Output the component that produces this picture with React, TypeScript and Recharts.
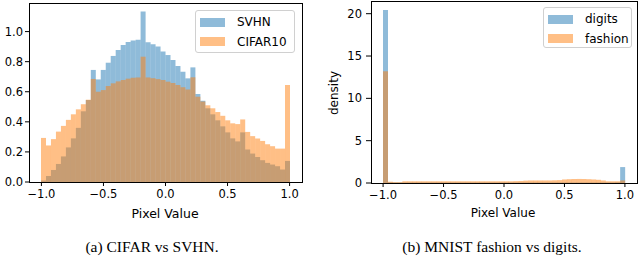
import {BarChart, Bar, XAxis, YAxis} from "recharts";

// 50 histogram bins on [-1, 1]
const binCenters = Array.from({length: 50}, (_, i) => Math.round((-0.98 + 0.04 * i) * 100) / 100);

const svhn = [
  0.01, 0.04, 0.08, 0.12, 0.17, 0.23, 0.29, 0.36, 0.47, 0.545,
  0.745, 0.682, 0.745, 0.793, 0.838, 0.878, 0.911, 0.931, 0.94, 0.945,
  1.133, 0.929, 0.916, 0.9, 0.867, 0.844, 0.811, 0.771, 0.733, 0.689,
  0.762, 0.585, 0.54, 0.49, 0.45, 0.41, 0.37, 0.33, 0.29, 0.27,
  0.33, 0.216, 0.189, 0.167, 0.145, 0.127, 0.116, 0.105, 0.083, 0.14
];
const cifar10 = [
  0.293, 0.243, 0.285, 0.335, 0.373, 0.413, 0.45, 0.483, 0.517, 0.547,
  0.685, 0.6, 0.611, 0.638, 0.656, 0.669, 0.678, 0.687, 0.693, 0.695,
  0.833, 0.695, 0.69, 0.684, 0.678, 0.667, 0.658, 0.645, 0.63, 0.615,
  0.696, 0.567, 0.535, 0.51, 0.49, 0.465, 0.44, 0.41, 0.39, 0.385,
  0.416, 0.333, 0.305, 0.289, 0.273, 0.251, 0.238, 0.222, 0.222, 0.645
];
const digits = [
  20.45, 0.08, 0.06, 0.06, 0.06, 0.06, 0.06, 0.06, 0.06, 0.06,
  0.06, 0.06, 0.06, 0.06, 0.06, 0.06, 0.06, 0.06, 0.06, 0.06,
  0.06, 0.06, 0.06, 0.06, 0.06, 0.06, 0.06, 0.06, 0.06, 0.06,
  0.06, 0.06, 0.06, 0.06, 0.06, 0.06, 0.06, 0.06, 0.06, 0.06,
  0.06, 0.06, 0.06, 0.06, 0.06, 0.06, 0.06, 0.06, 0.08, 1.88
];
const fashion = [
  13.2, 0.15, 0.1, 0.1, 0.2, 0.2, 0.2, 0.2, 0.2, 0.2,
  0.2, 0.2, 0.2, 0.2, 0.2, 0.2, 0.2, 0.2, 0.2, 0.2,
  0.2, 0.2, 0.2, 0.2, 0.2, 0.2, 0.2, 0.22, 0.24, 0.28,
  0.3, 0.3, 0.3, 0.3, 0.3, 0.32, 0.34, 0.42, 0.45, 0.47,
  0.48, 0.47, 0.45, 0.42, 0.38, 0.3, 0.2, 0.2, 0.2, 0.3
];

const xTicks = [-1, -0.5, 0, 0.5, 1];
const leftYTicks = [0, 0.2, 0.4, 0.6, 0.8, 1.0];
const rightYTicks = [0, 5, 10, 15, 20];

const leftData = binCenters.map((x, i) => ({bin: String(i), x, svhn: svhn[i], cifar: cifar10[i]}));
const rightData = binCenters.map((x, i) => ({bin: String(i), x, digits: digits[i], fashion: fashion[i]}));

const BLUE = "#1f77b4";
const ORANGE = "#ff7f0e";
const fmt = (v: number) => v.toFixed(1).replace("-", "\u2212");
const tickStyle = {fontSize: 11.5, fill: "#000", fontFamily: "DejaVu Sans"};
const tickLine = {stroke: "#000", strokeWidth: 1};

const Centered = ({x, y, children, style}: any) => (
  <div style={{position: "absolute", left: x, top: y, transform: "translate(-50%, -50%)", whiteSpace: "nowrap", ...style}}>
    {children}
  </div>
);

// axes frame (the four spines)
const Frame = ({left, top, width, height}: any) => (
  <div style={{position: "absolute", left: left - 0.5, top: top - 0.5, width: width + 1, height: height + 1,
    boxSizing: "border-box", border: "1px solid #000", pointerEvents: "none"}}/>
);

const LegendBox = ({left, top, width, height, items}: any) => (
  <div style={{
    position: "absolute", left, top, width, height, boxSizing: "border-box",
    border: "1px solid #d0d0d0", borderRadius: 3, background: "rgba(255,255,255,0.8)"
  }}>
    {items.map((it: any, i: number) => (
      <div key={i} style={{position: "absolute", left: 4, top: 5 + i * 19.5, display: "flex", alignItems: "center"}}>
        <div style={{width: 25, height: 9, background: it.color, opacity: 0.5}}/>
        <span style={{marginLeft: 12, fontSize: 12, lineHeight: "12px"}}>{it.label}</span>
      </div>
    ))}
  </div>
);

const App = () => {
  return (<div style={{position: "absolute", left: 0, top: 0, width: 640, height: 256, background: "#fff", fontFamily: "DejaVu Sans", color: "#000"}}>
    {/* (a) CIFAR vs SVHN */}
    <div style={{position: "absolute", left: 0, top: 0}}>
      <BarChart width={320} height={230} data={leftData} margin={{top: 3, right: 18, left: 0, bottom: 0}} barCategoryGap={0} barGap={0}>
        <XAxis xAxisId="a" dataKey="bin" hide height={0} padding={{left: 12, right: 12}}/>
        <XAxis xAxisId="b" dataKey="bin" hide height={0} padding={{left: 12, right: 12}}/>
        <XAxis xAxisId="t" dataKey="x" type="number" domain={[-1.1, 1.1]} allowDataOverflow ticks={xTicks} interval={0}
          tickFormatter={fmt} height={48} tickSize={4} tickMargin={4} tick={tickStyle} axisLine={false} tickLine={tickLine}/>
        <YAxis yAxisId="l" domain={[0, 1.19]} allowDataOverflow ticks={leftYTicks} interval={0} tickFormatter={(v: number) => v.toFixed(1)}
          width={29} tickSize={4} tickMargin={2} tick={tickStyle} axisLine={false} tickLine={tickLine}/>
        <Bar xAxisId="a" yAxisId="l" dataKey="svhn" fill={BLUE} fillOpacity={0.5} isAnimationActive={false}/>
        <Bar xAxisId="b" yAxisId="l" dataKey="cifar" fill={ORANGE} fillOpacity={0.5} isAnimationActive={false}/>
      </BarChart>
    </div>
    <Frame left={29} top={3} width={273} height={179}/>
    <LegendBox left={195} top={10} width={100} height={43}
      items={[{label: "SVHN", color: BLUE}, {label: "CIFAR10", color: ORANGE}]}/>
    <Centered x={165} y={213} style={{fontSize: 12.5}}>Pixel Value</Centered>
    <Centered x={152} y={247} style={{fontFamily: "Liberation Serif", fontSize: 15.5}}>(a) CIFAR vs SVHN.</Centered>

    {/* (b) MNIST fashion vs digits */}
    <div style={{position: "absolute", left: 320, top: 0}}>
      <BarChart width={320} height={230} data={rightData} margin={{top: 1, right: 3, left: 0, bottom: 0}} barCategoryGap={0} barGap={0}>
        <XAxis xAxisId="a" dataKey="bin" hide height={0} padding={{left: 12, right: 12}}/>
        <XAxis xAxisId="b" dataKey="bin" hide height={0} padding={{left: 12, right: 12}}/>
        <XAxis xAxisId="t" dataKey="x" type="number" domain={[-1.1, 1.1]} allowDataOverflow ticks={xTicks} interval={0}
          tickFormatter={fmt} height={47} tickSize={4} tickMargin={4} tick={tickStyle} axisLine={false} tickLine={tickLine}/>
        <YAxis yAxisId="l" domain={[0, 21.5]} allowDataOverflow ticks={rightYTicks} interval={0}
          width={51} tickSize={5} tickMargin={4} tick={tickStyle} axisLine={false} tickLine={tickLine}/>
        <Bar xAxisId="a" yAxisId="l" dataKey="digits" fill={BLUE} fillOpacity={0.5} isAnimationActive={false}/>
        <Bar xAxisId="b" yAxisId="l" dataKey="fashion" fill={ORANGE} fillOpacity={0.5} isAnimationActive={false}/>
      </BarChart>
    </div>
    <Frame left={371} top={1} width={266} height={182}/>
    <LegendBox left={543} top={7} width={89} height={41}
      items={[{label: "digits", color: BLUE}, {label: "fashion", color: ORANGE}]}/>
    <Centered x={334} y={93} style={{fontSize: 12, transform: "translate(-50%, -50%) rotate(-90deg)"}}>density</Centered>
    <Centered x={503} y={213} style={{fontSize: 12}}>Pixel Value</Centered>
    <Centered x={492} y={247} style={{fontFamily: "Liberation Serif", fontSize: 15.5}}>(b) MNIST fashion vs digits.</Centered>
  </div>);
};

export default App;
